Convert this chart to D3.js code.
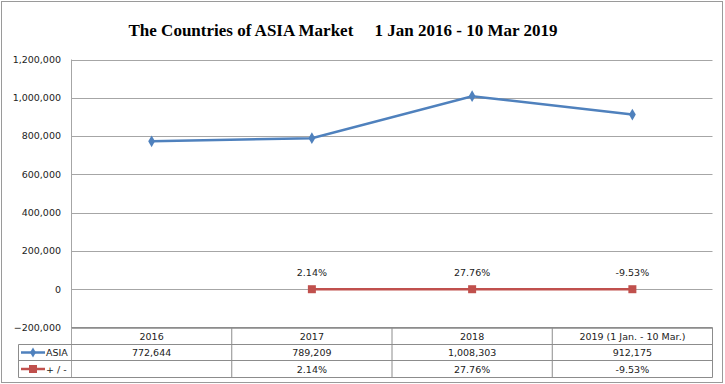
<!DOCTYPE html>
<html>
<head>
<meta charset="utf-8">
<script src="https://cdn.jsdelivr.net/npm/d3@7"></script>
<style>
  body { margin: 0; background: #fff; }
  svg { display: block; }
  .tick-label, .cell { font-family: "DejaVu Sans", sans-serif; fill: #222; }
</style>
</head>
<body>
<svg id="chart" width="725" height="384"></svg>
<script>
// chart data
let categories = ["2016", "2017", "2018", "2019 (1 Jan. - 10 Mar.)"]
let asiaValues = [772644, 789209, 1008303, 912175]
let changeValues = [null, 2.14, 27.76, -9.53]   // percent
let yTickValues = [-200000, 0, 200000, 400000, 600000, 800000, 1000000, 1200000]
let seriesNames = ["ASIA", "+ / -"]

let svg = d3.select("#chart")

let blue = "#4f81bd"
let red = "#c0504d"
let gridColor = "#a6a6a6"

let plotLeft = 71.5
let plotRight = 712.5

let x = d3.scaleBand()
          .domain(categories)
          .range([plotLeft, plotRight])

let y = d3.scaleLinear()
          .domain([-200000, 1200000])
          .range([327.5, 59.5])

let cx = (c) => x(c) + x.bandwidth() / 2

// outer frame
svg.append("rect")
    .attr("x", 1.5).attr("y", 1.5)
    .attr("width", 721).attr("height", 381)
    .attr("fill", "none")
    .attr("stroke", "#9a9a9a")

// title
svg.append("text")
    .attr("x", 343)
    .attr("y", 36)
    .attr("text-anchor", "middle")
    .style("font-family", "'Liberation Serif', serif")
    .style("font-weight", "bold")
    .style("font-size", "17px")
    .style("white-space", "pre")
    .text("The Countries of ASIA Market     1 Jan 2016 - 10 Mar 2019")

// gridlines + y labels
svg.append("g")
    .selectAll("line")
    .data(yTickValues)
    .enter()
    .append("line")
    .attr("x1", plotLeft)
    .attr("x2", plotRight)
    .attr("y1", (d) => Math.round(y(d)) + 0.5)
    .attr("y2", (d) => Math.round(y(d)) + 0.5)
    .attr("stroke", gridColor)

svg.append("g")
    .selectAll("text")
    .data(yTickValues)
    .enter()
    .append("text")
    .attr("class", "tick-label")
    .attr("x", 61)
    .attr("y", (d) => y(d))
    .attr("dy", "0.35em")
    .attr("text-anchor", "end")
    .style("font-size", "9.5px")
    .text((d) => d3.format(",")(d))

// left axis line
svg.append("line")
    .attr("x1", plotLeft).attr("x2", plotLeft)
    .attr("y1", y(1200000)).attr("y2", 377.5)
    .attr("stroke", gridColor)

// ASIA line
let asiaPoints = categories.map((c, i) => ({ cat: c, value: asiaValues[i] }))

let line = d3.line()
             .x((d) => cx(d.cat))
             .y((d) => y(d.value))

svg.append("path")
    .datum(asiaPoints)
    .attr("d", line)
    .attr("fill", "none")
    .attr("stroke", blue)
    .attr("stroke-width", 2.5)

svg.append("g")
    .selectAll("path")
    .data(asiaPoints)
    .enter()
    .append("path")
    .attr("d", d3.symbol().type(d3.symbolDiamond).size(40))
    .attr("transform", (d) => "translate(" + cx(d.cat) + "," + y(d.value) + ")")
    .attr("fill", blue)

// change line (percent values on the same axis, so they sit at zero)
let changePoints = categories.map((c, i) => ({ cat: c, value: changeValues[i] }))
                             .filter((d) => d.value !== null)

let changeLine = d3.line()
                   .x((d) => cx(d.cat))
                   .y((d) => y(d.value / 100))

svg.append("path")
    .datum(changePoints)
    .attr("d", changeLine)
    .attr("fill", "none")
    .attr("stroke", red)
    .attr("stroke-width", 2.5)

svg.append("g")
    .selectAll("rect")
    .data(changePoints)
    .enter()
    .append("rect")
    .attr("x", (d) => cx(d.cat) - 4)
    .attr("y", (d) => y(d.value / 100) - 4)
    .attr("width", 8)
    .attr("height", 8)
    .attr("fill", red)

svg.append("g")
    .selectAll("text")
    .data(changePoints)
    .enter()
    .append("text")
    .attr("class", "cell")
    .attr("x", (d) => cx(d.cat))
    .attr("y", (d) => y(d.value / 100) - 13)
    .attr("text-anchor", "middle")
    .style("font-size", "9.5px")
    .text((d) => d.value.toFixed(2) + "%")

// data table
let rowTop = [327.5, 344.5, 360.5, 377.5]
let tableColor = "#8c8c8c"
let table = svg.append("g")

// horizontal borders
table.append("line")
    .attr("x1", plotLeft).attr("x2", plotRight)
    .attr("y1", rowTop[0]).attr("y2", rowTop[0])
    .attr("stroke", tableColor)
rowTop.slice(1).forEach((ry) => {
    table.append("line")
        .attr("x1", 18.5).attr("x2", plotRight)
        .attr("y1", ry).attr("y2", ry)
        .attr("stroke", tableColor)
})

// vertical borders
table.append("line")
    .attr("x1", 18.5).attr("x2", 18.5)
    .attr("y1", rowTop[1]).attr("y2", rowTop[3])
    .attr("stroke", tableColor)
categories.forEach((c) => {
    table.append("line")
        .attr("x1", x(c) + x.bandwidth()).attr("x2", x(c) + x.bandwidth())
        .attr("y1", rowTop[0]).attr("y2", rowTop[3])
        .attr("stroke", tableColor)
})

// header
table.selectAll(".hdr")
    .data(categories)
    .enter()
    .append("text")
    .attr("class", "cell hdr")
    .attr("x", (c) => cx(c))
    .attr("y", 339.5)
    .attr("text-anchor", "middle")
    .style("font-size", "9.5px")
    .text((c) => c)

// ASIA row
table.selectAll(".asia")
    .data(asiaPoints)
    .enter()
    .append("text")
    .attr("class", "cell asia")
    .attr("x", (d) => cx(d.cat))
    .attr("y", 356)
    .attr("text-anchor", "middle")
    .style("font-size", "9.5px")
    .text((d) => d3.format(",")(d.value))

// change row
table.selectAll(".chg")
    .data(changePoints)
    .enter()
    .append("text")
    .attr("class", "cell chg")
    .attr("x", (d) => cx(d.cat))
    .attr("y", 372.5)
    .attr("text-anchor", "middle")
    .style("font-size", "9.5px")
    .text((d) => d.value.toFixed(2) + "%")

// legend keys in the table
let keyY = [352.5, 369]
table.append("line")
    .attr("x1", 21).attr("x2", 45)
    .attr("y1", keyY[0]).attr("y2", keyY[0])
    .attr("stroke", blue).attr("stroke-width", 2.5)
table.append("path")
    .attr("d", d3.symbol().type(d3.symbolDiamond).size(30))
    .attr("transform", "translate(33," + keyY[0] + ")")
    .attr("fill", blue)
table.append("line")
    .attr("x1", 21).attr("x2", 45)
    .attr("y1", keyY[1]).attr("y2", keyY[1])
    .attr("stroke", red).attr("stroke-width", 2.5)
table.append("rect")
    .attr("x", 29).attr("y", keyY[1] - 4)
    .attr("width", 8).attr("height", 8)
    .attr("fill", red)

table.selectAll(".key")
    .data(seriesNames)
    .enter()
    .append("text")
    .attr("class", "cell key")
    .attr("x", 46)
    .attr("y", (d, i) => keyY[i] + 3.5)
    .style("font-size", "9.5px")
    .style("white-space", "pre")
    .text((d) => d)
</script>
</body>
</html>
